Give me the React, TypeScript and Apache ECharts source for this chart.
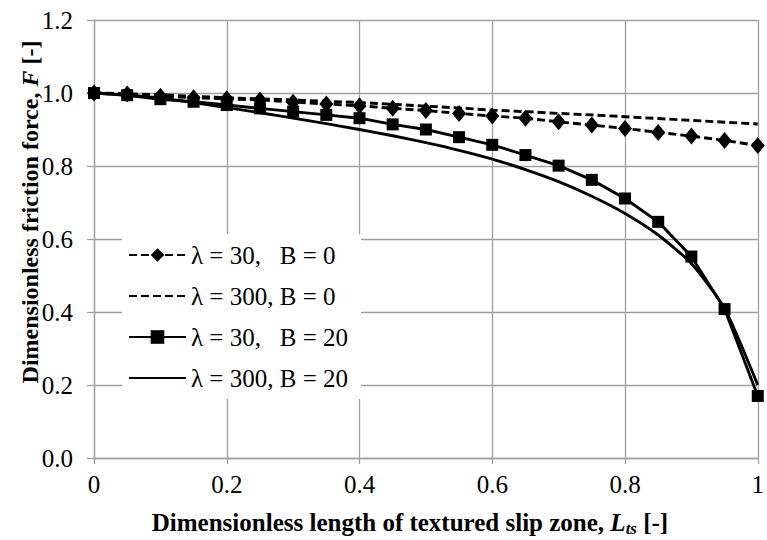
import React, { useEffect, useRef } from "react";
import * as echarts from "echarts";

const xValues = [0, 0.05, 0.1, 0.15, 0.2, 0.25, 0.3, 0.35, 0.4, 0.45, 0.5, 0.55, 0.6, 0.65, 0.7, 0.75, 0.8, 0.85, 0.9, 0.95, 1.0];
const lambda30B0 = [1.0, 0.997, 0.991, 0.987, 0.984, 0.981, 0.975, 0.97, 0.965, 0.958, 0.952, 0.944, 0.937, 0.931, 0.921, 0.912, 0.903, 0.892, 0.882, 0.87, 0.856];
const lambda300B0 = [1.0, 0.998, 0.995, 0.991, 0.987, 0.984, 0.981, 0.977, 0.974, 0.969, 0.964, 0.959, 0.953, 0.949, 0.944, 0.94, 0.935, 0.93, 0.925, 0.92, 0.915];
const lambda30B20 = [1.0, 0.994, 0.983, 0.976, 0.967, 0.958, 0.949, 0.94, 0.931, 0.914, 0.9, 0.879, 0.858, 0.83, 0.801, 0.762, 0.711, 0.647, 0.552, 0.408, 0.17];
const lambda300B20 = [1.0, 0.994, 0.986, 0.974, 0.96, 0.946, 0.931, 0.916, 0.9, 0.883, 0.864, 0.843, 0.819, 0.79, 0.757, 0.717, 0.67, 0.611, 0.533, 0.41, 0.2];

const seriesNames = ["λ = 30,   B = 0", "λ = 300, B = 0", "λ = 30,   B = 20", "λ = 300, B = 20"];
const xTickLabels = ["0", "0.2", "0.4", "0.6", "0.8", "1"];

const FONT = "Liberation Serif";
const GRID_COLOR = "#a0a0a0";

const pairs = (ys: number[]) => xValues.map((x, i) => [x, ys[i]]);

export default function App() {
  const ref = useRef<HTMLDivElement>(null);
  useEffect(() => {
    if (!ref.current) return;
    const chart = echarts.init(ref.current, undefined, { renderer: "svg" });
    const dash = [8, 4];
    const LW = 2.9;
    chart.setOption({
      animation: false,
      backgroundColor: "#ffffff",
      textStyle: { fontFamily: FONT },
      grid: { left: 94, right: 5, top: 20, bottom: 82, containLabel: false },
      xAxis: {
        type: "value",
        min: 0,
        max: 1,
        interval: 0.2,
        axisLine: { show: true, lineStyle: { color: GRID_COLOR, width: 1.3 } },
        axisTick: { show: true, inside: false, length: 6, lineStyle: { color: GRID_COLOR, width: 1.3 } },
        splitLine: { show: true, lineStyle: { color: GRID_COLOR, width: 1.3 } },
        axisLabel: {
          color: "#000",
          fontSize: 25,
          fontFamily: FONT,
          margin: 14,
          formatter: (v: number) => xTickLabels[Math.round(v / 0.2)] ?? String(v),
        },
      },
      yAxis: {
        type: "value",
        min: 0,
        max: 1.2,
        interval: 0.2,
        axisLine: { show: true, lineStyle: { color: GRID_COLOR, width: 1.3 } },
        axisTick: { show: true, inside: false, length: 7, lineStyle: { color: GRID_COLOR, width: 1.3 } },
        splitLine: { show: true, lineStyle: { color: GRID_COLOR, width: 1.3 } },
        axisLabel: {
          color: "#000",
          fontSize: 25,
          fontFamily: FONT,
          margin: 21,
          formatter: (v: number) => v.toFixed(1),
        },
      },
      legend: {
        orient: "vertical",
        left: 122,
        top: 234,
        padding: [6, 13, 6, 6],
        backgroundColor: "#ffffff",
        itemWidth: 57,
        itemHeight: 17,
        itemGap: 11,
        textStyle: { color: "#000", fontSize: 25, fontFamily: FONT, lineHeight: 30 },
        data: [
          { name: seriesNames[0] },
          { name: seriesNames[1], itemStyle: { opacity: 0 } },
          { name: seriesNames[2] },
          { name: seriesNames[3], itemStyle: { opacity: 0 } },
        ],
      },
      series: [
        {
          name: seriesNames[0],
          type: "line",
          data: pairs(lambda30B0),
          symbol: "diamond",
          symbolSize: [14, 17],
          itemStyle: { color: "#000" },
          lineStyle: { color: "#000", width: LW, type: dash },
          z: 4,
        },
        {
          name: seriesNames[1],
          type: "line",
          data: pairs(lambda300B0),
          symbol: "none",
          itemStyle: { color: "#000" },
          lineStyle: { color: "#000", width: LW, type: dash },
          z: 3,
        },
        {
          name: seriesNames[2],
          type: "line",
          data: pairs(lambda30B20),
          symbol: "rect",
          symbolSize: 12,
          itemStyle: { color: "#000" },
          lineStyle: { color: "#000", width: LW },
          z: 4,
        },
        {
          name: seriesNames[3],
          type: "line",
          data: pairs(lambda300B20),
          symbol: "none",
          smooth: 0.2,
          itemStyle: { color: "#000" },
          lineStyle: { color: "#000", width: LW },
          z: 3,
        },
      ],
      graphic: [
        {
          type: "text",
          x: 410,
          y: 522,
          style: {
            text: "{b|Dimensionless length of textured slip zone, }{i|L}{s|ts}{b| [-]}",
            align: "center",
            verticalAlign: "middle",
            fill: "#000",
            rich: {
              b: { fontFamily: FONT, fontSize: 25, fontWeight: "bold", lineHeight: 30, fill: "#000" },
              i: { fontFamily: FONT, fontSize: 25, fontWeight: "bold", fontStyle: "italic", lineHeight: 30, fill: "#000" },
              s: { fontFamily: FONT, fontSize: 17, fontWeight: "bold", fontStyle: "italic", lineHeight: 18, verticalAlign: "bottom", fill: "#000" },
            },
          },
        },
        {
          type: "text",
          x: 30,
          y: 212,
          rotation: Math.PI / 2,
          style: {
            text: "{b|Dimensionless friction force, }{i|F}{b| [-]}",
            align: "center",
            verticalAlign: "middle",
            fill: "#000",
            rich: {
              b: { fontFamily: FONT, fontSize: 24, fontWeight: "bold", lineHeight: 30, fill: "#000" },
              i: { fontFamily: FONT, fontSize: 24, fontWeight: "bold", fontStyle: "italic", lineHeight: 30, fill: "#000" },
            },
          },
        },
      ],
    });
    return () => chart.dispose();
  }, []);
  return <div ref={ref} style={{ width: 767, height: 540, position: "absolute", left: 0, top: 0 }} />;
}
